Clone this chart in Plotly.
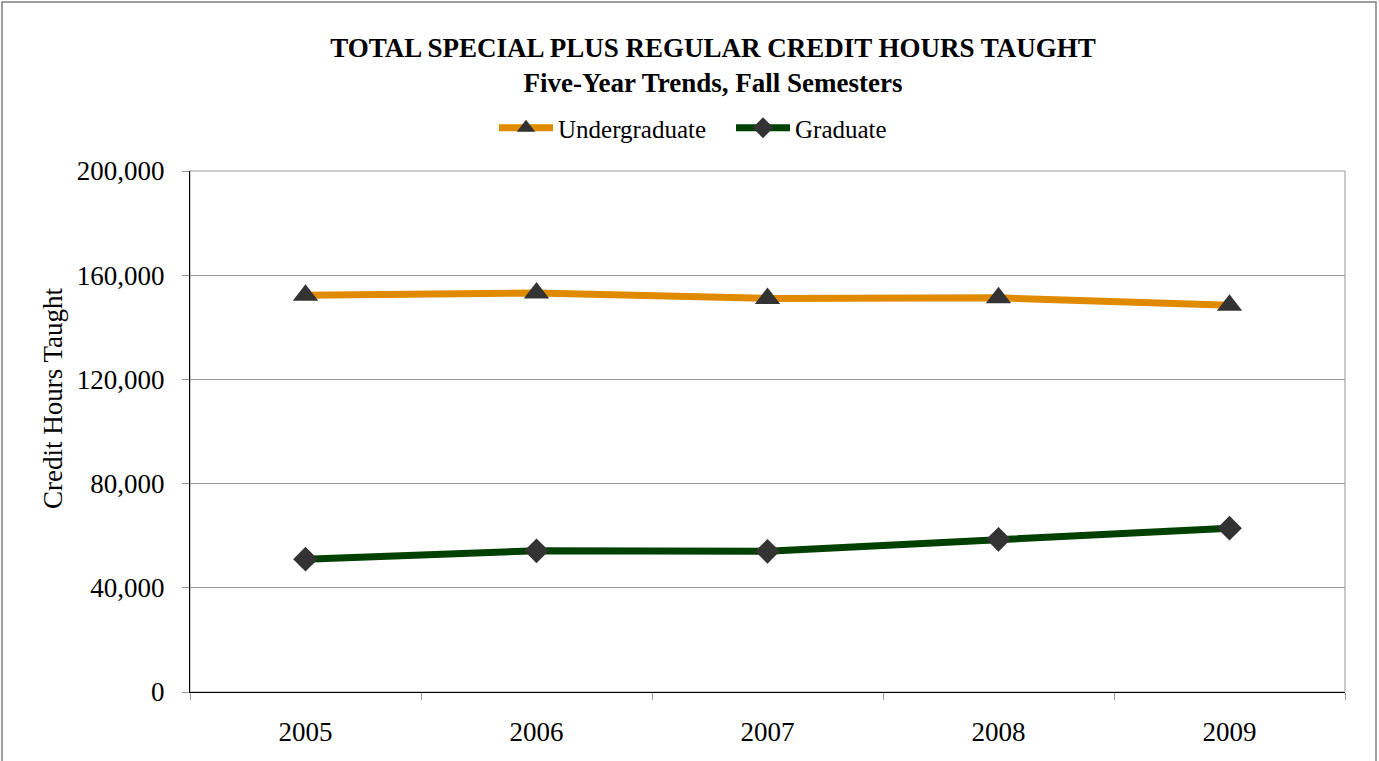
import plotly.graph_objects as go

years = ["2005", "2006", "2007", "2008", "2009"]
undergraduate = [152300, 153200, 151100, 151300, 148500]
graduate = [51000, 54200, 54000, 58600, 62900]
y_ticks = [0, 40000, 80000, 120000, 160000, 200000]
y_tick_labels = ["0", "40,000", "80,000", "120,000", "160,000", "200,000"]

FONT = "Liberation Serif, Times New Roman, serif"

fig = go.Figure()
fig.add_trace(go.Scatter(
    x=years, y=undergraduate, name="Undergraduate", mode="lines+markers",
    line=dict(color="#E08A00", width=7),
    marker=dict(symbol="triangle-up", size=22, color="#333333"),
))
fig.add_trace(go.Scatter(
    x=years, y=graduate, name="Graduate", mode="lines+markers",
    line=dict(color="#004000", width=7),
    marker=dict(symbol="diamond", size=19, color="#333333"),
))

L, R, T, B = 190, 34, 171, 69
W, H = 1379, 761
pw, ph = W - L - R, H - T - B

# plot-area frame (grey)
fig.add_shape(type="rect", xref="x domain", yref="y domain", x0=0, x1=1, y0=0, y1=1,
              line=dict(color="#999999", width=1), layer="below")
# outer chart border
fig.add_shape(type="rect", xref="paper", yref="paper",
              x0=(2 - L) / pw, x1=(1376 - L) / pw,
              y0=(H - B - 770) / ph, y1=(H - B - 2) / ph,
              line=dict(color="#7f7f7f", width=1.5))

# y-axis title (placed as in the reference, slightly above plot centre)
fig.add_annotation(text="Credit Hours Taught", textangle=-90, showarrow=False,
                   xref="paper", yref="paper", x=(53 - L) / pw, y=(H - B - 398) / ph,
                   xanchor="center", yanchor="middle",
                   font=dict(size=27, family=FONT, color="black"))

fig.update_layout(
    width=W, height=H,
    margin=dict(l=L, r=R, t=T, b=B),
    paper_bgcolor="white", plot_bgcolor="white",
    font=dict(family=FONT, color="black"),
    title=dict(
        text="<b>TOTAL SPECIAL PLUS REGULAR CREDIT HOURS TAUGHT<br>Five-Year Trends, Fall Semesters</b>",
        x=(713 - L) / pw, xref="paper", xanchor="center", y=1 - 57 / H, yanchor="top",
        font=dict(size=27, family=FONT, color="black"),
    ),
    legend=dict(
        orientation="h", x=(494 - L) / pw, xref="paper", xanchor="left",
        y=(H - B - 128) / ph, yanchor="middle",
        font=dict(size=25, family=FONT, color="black"),
        itemwidth=54, entrywidth=168,
        tracegroupgap=0, bgcolor="rgba(0,0,0,0)",
    ),
    showlegend=True,
)
fig.update_xaxes(
    type="category", tickson="boundaries", ticks="outside", ticklen=7,
    tickcolor="#999999", showline=True, linecolor="black", linewidth=1,
    showgrid=False, tickfont=dict(size=27, family=FONT, color="black"),
    range=[-0.5, 4.5], ticklabelstandoff=16,
)
fig.update_yaxes(
    range=[0, 200000], tickvals=y_ticks, ticktext=y_tick_labels,
    ticks="outside", ticklen=7, tickcolor="#999999",
    showline=True, linecolor="black", linewidth=1,
    showgrid=True, gridcolor="#999999", gridwidth=1, zeroline=False,
    tickfont=dict(size=27, family=FONT, color="black"), ticklabelstandoff=12,
)

fig.write_html("out.html", config={"displayModeBar": False},
               post_script="document.body.style.margin='0';document.body.style.overflow='hidden';")
